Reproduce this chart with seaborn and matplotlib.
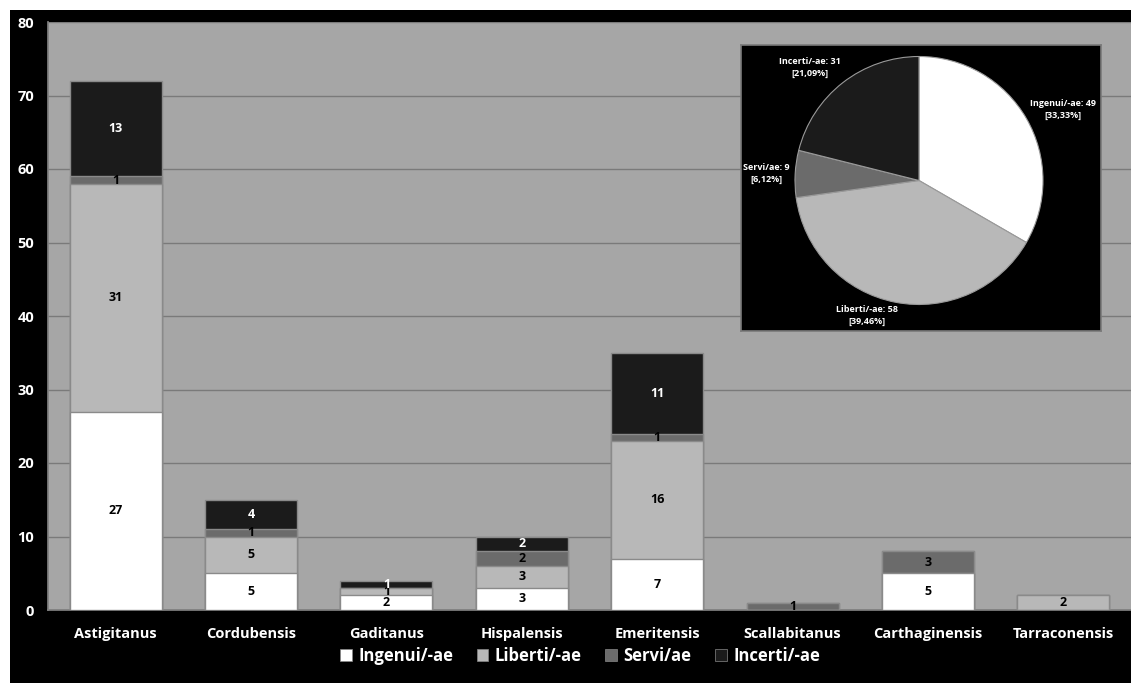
import numpy as np
import pandas as pd
import matplotlib
matplotlib.use("Agg")
import matplotlib.pyplot as plt
from matplotlib.patches import Patch, Rectangle
import seaborn as sns

categories = ["Astigitanus", "Cordubensis", "Gaditanus", "Hispalensis",
              "Emeritensis", "Scallabitanus", "Carthaginensis", "Tarraconensis"]
ingenui = [27, 5, 2, 3, 7, 0, 5, 0]
liberti = [31, 5, 1, 3, 16, 0, 0, 2]
servi = [1, 1, 0, 2, 1, 1, 3, 0]
incerti = [13, 4, 1, 2, 11, 0, 0, 0]
series_names = ["Ingenui/-ae", "Liberti/-ae", "Servi/ae", "Incerti/-ae"]
pie_values = [49, 58, 9, 31]
pie_pct = ["33,33%", "39,46%", "6,12%", "21,09%"]

colors = ["#ffffff", "#b8b8b8", "#6b6b6b", "#1b1b1b"]
label_colors = ["black", "black", "black", "white"]

sns.set_theme(style="white")
plt.rcParams["font.family"] = ["Open Sans", "DejaVu Sans"]
plt.rcParams["font.weight"] = "bold"

fig = plt.figure(figsize=(11.31, 6.83), dpi=100, facecolor="white")
W, H = 1131, 683
fig.patches.append(Rectangle((10 / W, 0), 1 - 10 / W, 1 - 10 / H, transform=fig.transFigure,
                             facecolor="black", edgecolor="none", zorder=-10))

ax = fig.add_axes([48 / W, (H - 610) / H, 1 - 48 / W, (610 - 22) / H])
ax.set_facecolor("#a6a6a6")

data = [ingenui, liberti, servi, incerti]
cum = np.cumsum(np.array(data, dtype=float), axis=0)

# draw cumulative bars from top series to bottom so each segment shows
for i in range(3, -1, -1):
    df = pd.DataFrame({"cat": categories, "val": cum[i]})
    sns.barplot(data=df, x="cat", y="val", order=categories, color=colors[i],
                saturation=1, width=0.68, edgecolor="#8a8a8a", linewidth=1.0,
                ax=ax, zorder=3)

# value labels
for i in range(4):
    for j, v in enumerate(data[i]):
        if v > 0:
            base = cum[i][j] - v
            ax.text(j, base + v / 2, str(v), ha="center", va="center",
                    fontsize=9, fontweight="bold", color=label_colors[i], zorder=5)

ax.set_ylim(0, 80)
ax.set_xlim(-0.5, len(categories) - 0.5)
ax.set_yticks(range(0, 81, 10))
ax.yaxis.grid(True, color="#7a7a7a", linewidth=1.0, zorder=0)
ax.set_axisbelow(True)
for s in ["top", "right"]:
    ax.spines[s].set_visible(False)
ax.spines["left"].set_color("#808080")
ax.spines["bottom"].set_color("#808080")
ax.set_xlabel("")
ax.set_ylabel("")
ax.tick_params(axis="y", colors="#808080", labelcolor="white", length=5, width=1, labelsize=10.5, pad=5)
ax.tick_params(axis="x", length=0, labelcolor="white", labelsize=10.5, pad=12)
ax.set_xticks(np.arange(-0.5, len(categories), 1), minor=True)
ax.tick_params(axis="x", which="minor", length=5, color="#808080", width=1)
for lab in ax.get_xticklabels() + ax.get_yticklabels():
    lab.set_fontweight("bold")

# legend
handles = [Patch(facecolor=c, edgecolor="#888888", linewidth=0.5) for c in colors]
leg = fig.legend(handles, series_names, loc="center", bbox_to_anchor=(580 / W, (H - 656) / H),
                 ncol=4, frameon=False, handlelength=0.7, handleheight=0.7,
                 handletextpad=0.4, columnspacing=1.4, labelcolor="white",
                 prop={"family": ["Open Sans", "DejaVu Sans"], "weight": "bold", "size": 12})

# inset pie
pax = fig.add_axes([741 / W, (H - 331) / H, (1101 - 741) / W, (331 - 45) / H])
wedges, _ = pax.pie(pie_values, colors=colors, startangle=90, counterclock=False,
                    radius=1.0, wedgeprops=dict(edgecolor="#9a9a9a", linewidth=0.8))
pax.set_frame_on(True)
pax.set_facecolor("black")
pax.set_aspect("auto")
r = 124.0
pax.set_xlim(-(919 - 741) / r, (1101 - 919) / r)
pax.set_ylim(-(331 - 180.5) / r, (180.5 - 45) / r)
for s in pax.spines.values():
    s.set_visible(True)
    s.set_color("#7a7a7a")
    s.set_linewidth(1.2)
pax.set_xticks([])
pax.set_yticks([])

label_pos = [(1.16, 0.57), (-0.42, -1.09), (-1.23, 0.06), (-0.88, 0.91)]
for name, val, pct, (x, y) in zip(series_names, pie_values, pie_pct, label_pos):
    pax.text(x, y, f"{name}: {val}\n[{pct}]", ha="center", va="center",
             fontsize=6.5, fontweight="bold", color="white", linespacing=1.4)

fig.savefig("out.png", dpi=100, facecolor=fig.get_facecolor())
